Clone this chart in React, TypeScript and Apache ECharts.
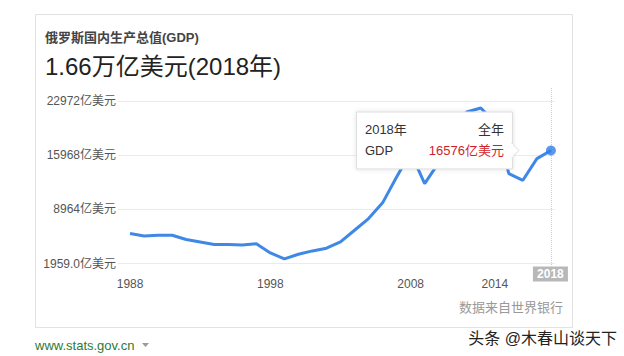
import React, { useEffect, useRef } from "react";
import * as echarts from "echarts";

const years = [
  1988, 1989, 1990, 1991, 1992, 1993, 1994, 1995, 1996, 1997, 1998, 1999, 2000,
  2001, 2002, 2003, 2004, 2005, 2006, 2007, 2008, 2009, 2010, 2011, 2012, 2013,
  2014, 2015, 2016, 2017, 2018,
];
const gdpValues = [
  5835, 5525, 5615, 5615, 5060, 4750, 4414, 4414, 4362, 4517, 3329, 2553, 3161,
  3587, 3936, 4750, 6261, 7773, 9800, 13148, 16300, 12295, 15000, 19790, 21546,
  22063, 20200, 13587, 12721, 15525, 16576,
];
const yTickValues = [1959, 8964, 15968, 22972];
const yTickLabels = ["1959.0亿美元", "8964亿美元", "15968亿美元", "22972亿美元"];
const xTickYears = [1988, 1998, 2008, 2014];
const highlightYear = 2018;

const titleText = "俄罗斯国内生产总值(GDP)";
const headlineText = "1.66万亿美元(2018年)";
const periodText = "全年";
const seriesName = "GDP";
const unitText = "亿美元";
const sourceText = "数据来自世界银行";
const siteText = "www.stats.gov.cn";
const watermarkText = "头条 @木春山谈天下";

const FONT = "'Liberation Sans', Arial, 'Noto Sans CJK SC', sans-serif";

export default function App() {
  const ref = useRef<HTMLDivElement>(null);

  useEffect(() => {
    if (!ref.current) return;
    const chart = echarts.init(ref.current, undefined, { renderer: "svg" });
    const hiIndex = years.indexOf(highlightYear);
    const hiValue = gdpValues[hiIndex];

    chart.setOption({
      animation: false,
      textStyle: { fontFamily: FONT },
      grid: { left: 118, top: 101, width: 437, height: 162.5, containLabel: false },
      xAxis: {
        type: "value",
        min: 1987.14,
        max: 2018.29,
        axisLine: { show: false },
        axisTick: { show: false },
        splitLine: { show: false },
        axisLabel: {
          customValues: xTickYears,
          formatter: (v: number) => String(v),
          color: "#555",
          fontSize: 12,
          fontFamily: FONT,
          margin: 14,
        },
      },
      yAxis: {
        type: "value",
        min: yTickValues[0],
        max: yTickValues[yTickValues.length - 1],
        axisLine: { show: false },
        axisTick: { show: false, customValues: yTickValues },
        splitLine: { show: true, lineStyle: { color: "#ebebeb", width: 1 } },
        axisLabel: {
          customValues: yTickValues,
          formatter: (v: number) => {
            const i = yTickValues.indexOf(v);
            return i >= 0 ? yTickLabels[i] : "";
          },
          color: "#555",
          fontSize: 12,
          fontFamily: FONT,
          margin: 2,
        },
      },
      series: [
        {
          type: "line",
          data: years.map((y, i) => [y, gdpValues[i]]),
          showSymbol: false,
          lineStyle: { color: "#3f88e6", width: 3 },
          z: 3,
        },
        {
          type: "scatter",
          data: [[highlightYear, hiValue]],
          symbolSize: 10,
          itemStyle: { color: "#2e7fe8" },
          z: 4,
        },
      ],
    });

    const p = chart.convertToPixel({ gridIndex: 0 }, [highlightYear, hiValue]) as number[];
    const top = chart.convertToPixel({ gridIndex: 0 }, [highlightYear, yTickValues[3]]) as number[];
    const bot = chart.convertToPixel({ gridIndex: 0 }, [highlightYear, yTickValues[0]]) as number[];
    const px = p[0];
    const py = p[1];
    const boxRight = px - 39;
    const boxLeft = px - 195;
    const boxTop = py - 39;
    const boxH = 57;

    chart.setOption({
      graphic: [
        {
          type: "rect",
          shape: { x: 35.5, y: 14.5, width: 537, height: 313 },
          style: { fill: "none", stroke: "#e2e2e2", lineWidth: 1 },
          z: -5,
          silent: true,
        },
        {
          type: "text",
          style: {
            text: titleText,
            x: 45,
            y: 37,
            fill: "#444",
            font: `bold 13px ${FONT}`,
            textVerticalAlign: "middle",
          },
        },
        {
          type: "text",
          style: {
            text: headlineText,
            x: 45,
            y: 66,
            fill: "#222",
            font: `24px ${FONT}`,
            textVerticalAlign: "middle",
          },
        },
        {
          type: "line",
          shape: { x1: px + 0.5, y1: top[1] - 13, x2: px + 0.5, y2: bot[1] + 3 },
          style: { stroke: "#c8c8c8", lineWidth: 1, lineDash: [1, 1] },
          z: 1,
          silent: true,
        },
        {
          type: "rect",
          shape: { x: px - 18, y: bot[1] + 3, width: 35, height: 15 },
          style: { fill: "#b8b8b8" },
          z: 5,
        },
        {
          type: "text",
          style: {
            text: String(highlightYear),
            x: px - 0.5,
            y: bot[1] + 10.5,
            fill: "#fff",
            font: `bold 12px ${FONT}`,
            textAlign: "center",
            textVerticalAlign: "middle",
          },
          z: 6,
        },
        {
          type: "rect",
          shape: { x: boxLeft + 0.5, y: boxTop + 0.5, width: boxRight - boxLeft, height: boxH },
          style: {
            fill: "#fff",
            stroke: "#dcdcdc",
            lineWidth: 1,
            shadowBlur: 4,
            shadowColor: "rgba(0,0,0,0.12)",
          },
          z: 20,
        },
        {
          type: "polygon",
          shape: { points: [[boxRight, py - 7], [boxRight + 7, py], [boxRight, py + 7]] },
          style: { fill: "#fff", stroke: "#dcdcdc", lineWidth: 1 },
          z: 21,
        },
        {
          type: "rect",
          shape: { x: boxRight - 1, y: py - 6.5, width: 2, height: 13 },
          style: { fill: "#fff" },
          z: 22,
        },
        {
          type: "text",
          style: {
            text: `${highlightYear}年`,
            x: boxLeft + 9,
            y: boxTop + 18,
            fill: "#333",
            font: `13px ${FONT}`,
            textVerticalAlign: "middle",
          },
          z: 23,
        },
        {
          type: "text",
          style: {
            text: periodText,
            x: boxRight - 8,
            y: boxTop + 18,
            fill: "#333",
            font: `13px ${FONT}`,
            textAlign: "right",
            textVerticalAlign: "middle",
          },
          z: 23,
        },
        {
          type: "text",
          style: {
            text: seriesName,
            x: boxLeft + 9,
            y: boxTop + 39,
            fill: "#333",
            font: `13px ${FONT}`,
            textVerticalAlign: "middle",
          },
          z: 23,
        },
        {
          type: "text",
          style: {
            text: `${hiValue}${unitText}`,
            x: boxRight - 8,
            y: boxTop + 39,
            fill: "#cf1f2c",
            font: `13px ${FONT}`,
            textAlign: "right",
            textVerticalAlign: "middle",
          },
          z: 23,
        },
        {
          type: "text",
          style: {
            text: sourceText,
            x: 563,
            y: 307,
            fill: "#999",
            font: `13px ${FONT}`,
            textAlign: "right",
            textVerticalAlign: "middle",
          },
        },
        {
          type: "text",
          style: {
            text: siteText,
            x: 35,
            y: 345,
            fill: "#2e7a32",
            font: `13px ${FONT}`,
            textVerticalAlign: "middle",
          },
        },
        {
          type: "polygon",
          shape: { points: [[142, 343], [149, 343], [145.5, 347]] },
          style: { fill: "#999" },
        },
        {
          type: "text",
          style: {
            text: watermarkText,
            x: 617,
            y: 338,
            fill: "#222",
            stroke: "#fff",
            lineWidth: 2,
            font: `16px ${FONT}`,
            textAlign: "right",
            textVerticalAlign: "middle",
          },
          z: 30,
        },
      ],
    });

    return () => chart.dispose();
  }, []);

  return (
    <div
      ref={ref}
      style={{ position: "absolute", left: 0, top: 0, width: 624, height: 356, background: "#fff" }}
    />
  );
}
